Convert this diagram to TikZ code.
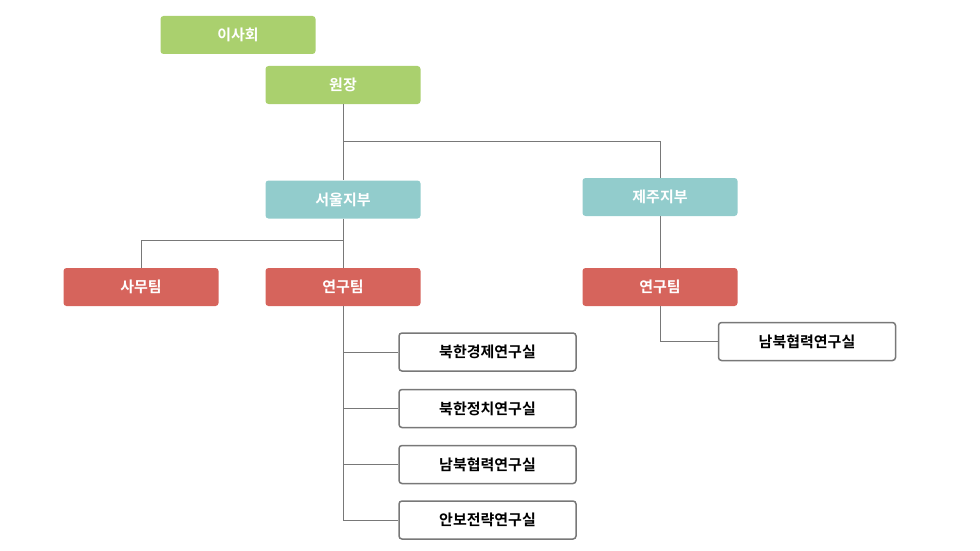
\documentclass[tikz,border=0pt]{standalone}
\usepackage{fontspec}
\setmainfont{Noto Sans CJK KR}[BoldFont={Noto Sans CJK KR Bold}]
\usetikzlibrary{positioning}
\definecolor{boardgreen}{RGB}{170,208,110}
\definecolor{branchteal}{RGB}{146,204,204}
\definecolor{teamred}{RGB}{214,100,92}
\definecolor{linegray}{RGB}{120,120,120}
\tikzset{
  box/.style={rounded corners=3pt, minimum width=155pt, minimum height=38pt,
    font=\bfseries\fontsize{15}{18}\selectfont, text=white, inner sep=0pt},
  board/.style={box, fill=boardgreen},
  branch/.style={box, fill=branchteal},
  team/.style={box, fill=teamred},
  lab/.style={box, text=black, fill=white, draw=linegray, line width=1.5pt,
    minimum width=177pt, minimum height=38pt},
  link/.style={draw=linegray, line width=1pt}
}
\begin{document}
\begin{tikzpicture}[x=1pt,y=-1pt]
\useasboundingbox (0,0) rectangle (980,551);

% top
\node[board] (board) at (238,35) {이사회};
\node[board] (head) at (343,85) {원장};

% branches
\node[branch] (seoul) at (343,199.5) {서울지부};
\node[branch] (jeju) at (660,197) {제주지부};

% teams
\node[team] (office) at (141,287) {사무팀};
\node[team] (research) at (343,287) {연구팀};
\node[team] (jejures) at (660,287) {연구팀};

% labs
\node[lab] (econ) at (487.5,352) {북한경제연구실};
\node[lab] (polit) at (487.5,408.5) {북한정치연구실};
\node[lab] (coop) at (487.5,464.5) {남북협력연구실};
\node[lab] (secur) at (487.5,520) {안보전략연구실};
\node[lab] (jejucoop) at (807,341.5) {남북협력연구실};

% connectors
\draw[link] (head.south) -- (seoul.north);
\draw[link] (head.south) ++(0,37) -| (jeju.north);
\draw[link] (seoul.south) -- (research.north);
\draw[link] (seoul.south) ++(0,22) -| (office.north);
\draw[link] (research.south) |- (secur.west);
\draw[link] (econ.west) -- (econ.west -| research.south);
\draw[link] (polit.west) -- (polit.west -| research.south);
\draw[link] (coop.west) -- (coop.west -| research.south);
\draw[link] (jeju.south) -- (jejures.north);
\draw[link] (jejures.south) |- (jejucoop.west);
\end{tikzpicture}
\end{document}
